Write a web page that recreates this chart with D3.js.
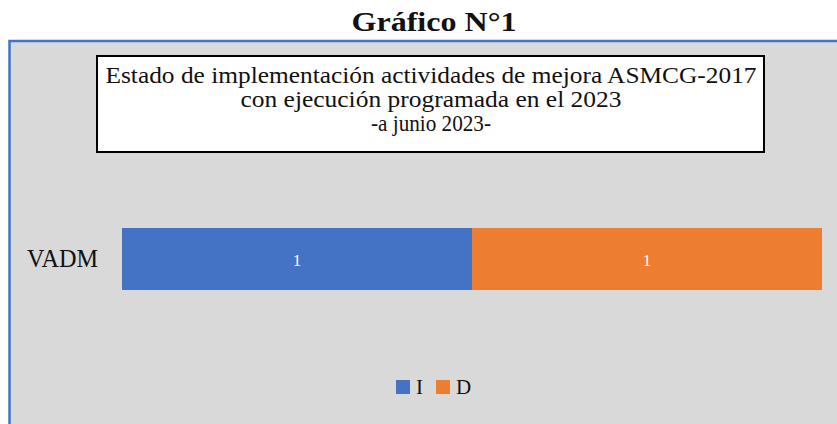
<!DOCTYPE html>
<html>
<head>
<meta charset="utf-8">
<script src="https://cdn.jsdelivr.net/npm/d3@7"></script>
<style>
  body { margin: 0; background: #fff; }
</style>
</head>
<body>
<div id="vis"></div>
<script>
// data
var categories = ['VADM'];
var seriesNames = ['I', 'D'];
var seriesI = [1];
var seriesD = [1];
var seriesColors = ['#4472c4', '#ed7d31'];

var chartTitle = 'Gráfico N°1';
var boxLines = [
  'Estado de implementación actividades de mejora ASMCG-2017',
  'con ejecución programada en el 2023',
  '-a junio 2023-'
];

var serif = '"Liberation Serif", "Times New Roman", Tinos, serif';
var width = 837;
var height = 424;

var svg = d3.select('#vis').append('svg')
  .attr('width', width)
  .attr('height', height);

// page title above the chart
svg.append('text')
  .attr('x', 434)
  .attr('y', 31)
  .attr('text-anchor', 'middle')
  .style('font-family', serif)
  .style('font-weight', 'bold')
  .style('font-size', '28px')
  .attr('textLength', 165)
  .attr('lengthAdjust', 'spacingAndGlyphs')
  .attr('fill', '#111')
  .text(chartTitle);

// chart area (grey, blue border cut off at right / bottom)
svg.append('rect')
  .attr('x', 9.5)
  .attr('y', 41)
  .attr('width', 840)
  .attr('height', 400)
  .attr('fill', '#d9d9d9')
  .attr('stroke', '#4472c4')
  .attr('stroke-width', 2.5);

// boxed chart title
svg.append('rect')
  .attr('x', 97)
  .attr('y', 56)
  .attr('width', 667)
  .attr('height', 96)
  .attr('fill', '#fff')
  .attr('stroke', '#000')
  .attr('stroke-width', 2);

var lineWidths = [651, 381, 120];
boxLines.forEach(function (t, i) {
  svg.append('text')
    .attr('x', 431)
    .attr('y', 83 + i * 24)
    .attr('text-anchor', 'middle')
    .style('font-family', serif)
    .style('font-size', '24px')
    .attr('textLength', lineWidths[i])
    .attr('lengthAdjust', 'spacingAndGlyphs')
    .attr('fill', '#111')
    .text(t);
});

// stack the series
var rows = categories.map(function (c, i) {
  return { cat: c, I: seriesI[i], D: seriesD[i] };
});
var stack = d3.stack().keys(seriesNames)(rows);

var x = d3.scaleLinear()
  .domain([0, d3.max(rows, function (d) { return d.I + d.D; })])
  .range([122, 822]);

var y = d3.scaleBand()
  .domain(categories)
  .range([166, 352])
  .padding(0.5);

var g = svg.append('g');

var layers = g.selectAll('.layer')
  .data(stack)
  .enter().append('g')
  .attr('class', 'layer')
  .attr('fill', function (d, i) { return seriesColors[i]; });

layers.selectAll('rect')
  .data(function (d) { return d; })
  .enter().append('rect')
  .attr('x', function (d) { return x(d[0]); })
  .attr('y', function (d) { return y(d.data.cat); })
  .attr('width', function (d) { return x(d[1]) - x(d[0]); })
  .attr('height', y.bandwidth());

// data labels
layers.selectAll('.lbl')
  .data(function (d) { return d; })
  .enter().append('text')
  .attr('class', 'lbl')
  .attr('x', function (d) { return (x(d[0]) + x(d[1])) / 2; })
  .attr('y', function (d) { return y(d.data.cat) + y.bandwidth() / 2 + 7; })
  .attr('text-anchor', 'middle')
  .style('font-family', serif)
  .style('font-size', '17px')
  .attr('fill', '#fff')
  .text(function (d) { return d[1] - d[0]; });

// category axis
var yAxis = g.append('g')
  .attr('transform', 'translate(122,0)')
  .call(d3.axisLeft(y).tickSize(0).tickPadding(24));
yAxis.select('.domain').remove();
yAxis.selectAll('text')
  .style('font-family', serif)
  .style('font-size', '26px')
  .attr('fill', '#111')
  .attr('dy', '0.32em')
  .attr('textLength', 71)
  .attr('lengthAdjust', 'spacingAndGlyphs');

// legend
var legend = svg.append('g');
var legendX = [396, 436];
seriesNames.forEach(function (name, i) {
  legend.append('rect')
    .attr('x', legendX[i])
    .attr('y', 380)
    .attr('width', 14)
    .attr('height', 14)
    .attr('fill', seriesColors[i]);
  legend.append('text')
    .attr('x', legendX[i] + 20)
    .attr('y', 394)
    .style('font-family', serif)
    .style('font-size', '21px')
    .attr('fill', '#111')
    .text(name);
});
</script>
</body>
</html>
